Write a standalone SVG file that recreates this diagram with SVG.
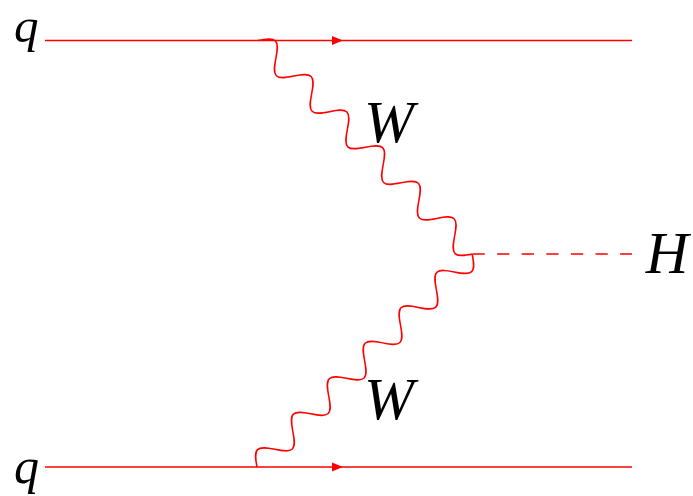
<svg xmlns="http://www.w3.org/2000/svg" xmlns:xlink="http://www.w3.org/1999/xlink" width="693" height="496" viewBox="0 0 693 496">
<style>
.ln{stroke:#ff0000;stroke-width:1.5;fill:none}
.ah{fill:#ff0000;stroke:none}
.lbl{font-family:"Liberation Serif","Times New Roman",serif;font-style:italic;fill:#000}
</style>
<defs>
<path id="wave" d="M0,0 c4.113,-6.148 8.046,-12 12.61,-12 c4.564,0 8.497,5.852 12.61,12 c4.113,6.148 8.046,12 12.61,12 c4.564,0 8.497,-5.852 12.61,-12 c4.113,-6.148 8.046,-12 12.61,-12 c4.564,0 8.497,5.852 12.61,12 c4.113,6.148 8.046,12 12.61,12 c4.564,0 8.497,-5.852 12.61,-12 c4.113,-6.148 8.046,-12 12.61,-12 c4.564,0 8.497,5.852 12.61,12 c4.113,6.148 8.046,12 12.61,12 c4.564,0 8.497,-5.852 12.61,-12 c4.113,-6.148 8.046,-12 12.61,-12 c4.564,0 8.497,5.852 12.61,12 c4.113,6.148 8.046,12 12.61,12 c4.564,0 8.497,-5.852 12.61,-12 c4.113,-6.148 8.046,-12 12.61,-12 c4.564,0 8.497,5.852 12.61,12 c4.113,6.148 8.046,12 12.61,12 c4.564,0 8.497,-5.852 12.61,-12 c4.113,-6.148 8.046,-12 12.61,-12 c4.564,0 8.497,5.852 12.61,12 c4.113,6.148 8.046,12 12.61,12 c4.564,0 8.497,-5.852 12.61,-12"/>
</defs>
<g id="connectors">
<g id="q-top-line">
<line class="ln" x1="45" y1="40.5" x2="632" y2="40.5"/>
<polygon class="ah" points="332,36 343,40.5 332,45"/>
</g>
<g id="q-bottom-line">
<line class="ln" x1="45" y1="467" x2="632" y2="467"/>
<polygon class="ah" points="332,462.5 343,467 332,471.5"/>
</g>
<use id="W-top" class="ln" xlink:href="#wave" href="#wave" transform="translate(258,40.5) rotate(44.87)"/>
<use id="W-bottom" class="ln" xlink:href="#wave" href="#wave" transform="translate(257,467) rotate(-44.67)"/>
<line id="H-line" class="ln" x1="472.5" y1="254" x2="632" y2="254" stroke-dasharray="12.3 12.3"/>
</g>
<g id="label-q-top"><text class="lbl" x="14" y="42" font-size="49">q</text></g>
<g id="label-q-bottom"><text class="lbl" x="14" y="483" font-size="50">q</text></g>
<g id="label-W-top"><text class="lbl" x="389" y="142" font-size="60" text-anchor="middle">W</text></g>
<g id="label-W-bottom"><text class="lbl" x="389" y="419" font-size="60" text-anchor="middle">W</text></g>
<g id="label-H"><text class="lbl" x="667" y="273" font-size="59" text-anchor="middle">H</text></g>
</svg>
